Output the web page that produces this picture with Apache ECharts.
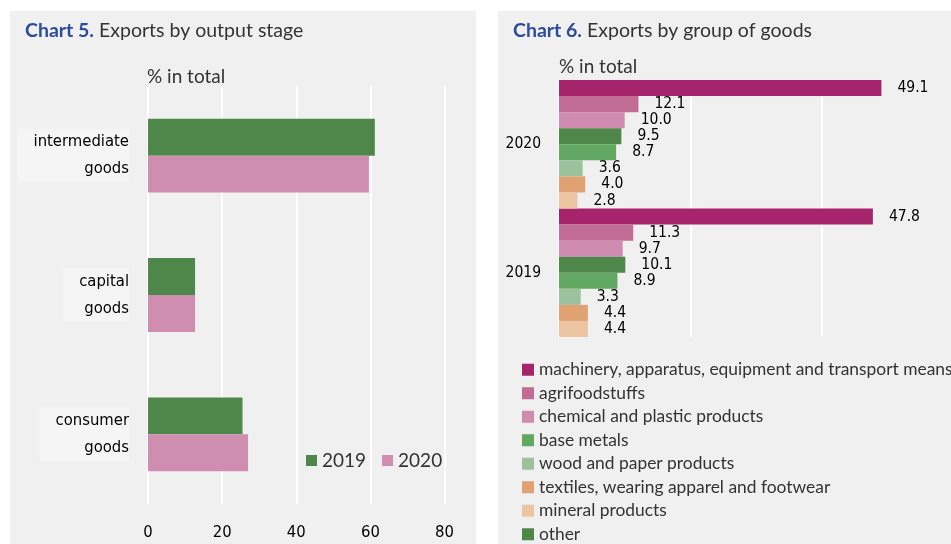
<!DOCTYPE html>
<html>
<head>
<meta charset="utf-8">
<script src="https://cdn.jsdelivr.net/npm/echarts@6/dist/echarts.min.js"></script>
<style>
    html, body { margin: 0; padding: 0; background: #ffffff; }
    #chart { width: 951px; height: 544px; }
</style>
</head>
<body>
<div id="chart"></div>
<script>
// chart 5: exports by output stage
const stageCats = ['intermediate\ngoods', 'capital\ngoods', 'consumer\ngoods'];
const stage2019 = [61.2, 12.7, 25.5];
const stage2020 = [59.6, 12.7, 27.0];
const stageTicks = [0, 20, 40, 60, 80];

// chart 6: exports by group of goods, values are [2020, 2019]
const years = ['2020', '2019'];
const machinery = [49.1, 47.8];
const agrifood = [12.1, 11.3];
const chemical = [10.0, 9.7];
const other = [9.5, 10.1];
const baseMetals = [8.7, 8.9];
const wood = [3.6, 3.3];
const textiles = [4.0, 4.4];
const mineral = [2.8, 4.4];

const FONT = 'Lato, "Open Sans", sans-serif';
const NARROW = '"Liberation Sans Narrow", "DejaVu Sans Condensed", sans-serif';
const GREEN = '#4f874b';
const PINK = '#cf8db0';

let groups = [
    { name: 'machinery, apparatus, equipment and transport means', data: machinery, color: '#a5246b' },
    { name: 'agrifoodstuffs', data: agrifood, color: '#c06c95' },
    { name: 'chemical and plastic products', data: chemical, color: '#cf8cb0' },
    { name: 'other', data: other, color: '#4f874b' },
    { name: 'base metals', data: baseMetals, color: '#63a862' },
    { name: 'wood and paper products', data: wood, color: '#9bc29d' },
    { name: 'textiles, wearing apparel and footwear', data: textiles, color: '#e0a272' },
    { name: 'mineral products', data: mineral, color: '#ecc4a2' }
];
// legend lists "other" last
let legendOrder = [0, 1, 2, 4, 5, 6, 7, 3].map(i => groups[i].name);

let mychart = echarts.init(document.getElementById('chart'));

let series = [
    {
        name: '2019', type: 'bar', xAxisIndex: 0, yAxisIndex: 0,
        data: stage2019, itemStyle: { color: GREEN },
        barGap: 0, barCategoryGap: '47%'
    },
    {
        name: '2020', type: 'bar', xAxisIndex: 0, yAxisIndex: 0,
        data: stage2020, itemStyle: { color: PINK }
    }
];
groups.forEach((g) => {
    series.push({
        name: g.name, type: 'bar', xAxisIndex: 1, yAxisIndex: 1,
        data: g.data,
        itemStyle: { color: g.color },
        barGap: 0, barCategoryGap: 0,
        label: {
            show: true, position: 'right', distance: 16,
            formatter: p => p.value.toFixed(1),
            fontFamily: NARROW, fontSize: 15.5, color: '#000'
        }
    })
})

let options = {
    animation: false,
    graphic: [
        { type: 'rect', shape: { x: 10, y: 11, width: 466, height: 540 }, style: { fill: '#f0f0f0' }, z: -10 },
        { type: 'rect', shape: { x: 498, y: 11, width: 470, height: 540 }, style: { fill: '#f0f0f0' }, z: -10 }
    ],
    title: [
        {
            left: 25, top: 21, padding: 0,
            text: '{b|Chart 5.} Exports by output stage',
            textStyle: {
                fontFamily: FONT, fontSize: 19.5, fontWeight: 'normal', color: '#333',
                rich: { b: { fontFamily: FONT, fontSize: 19.5, fontWeight: 'bold', color: '#2b4c9b' } }
            }
        },
        {
            left: 513, top: 21, padding: 0,
            text: '{b|Chart 6.} Exports by group of goods',
            textStyle: {
                fontFamily: FONT, fontSize: 19.5, fontWeight: 'normal', color: '#333',
                rich: { b: { fontFamily: FONT, fontSize: 19.5, fontWeight: 'bold', color: '#2b4c9b' } }
            }
        },
        {
            left: 147, top: 67, padding: 0, text: '% in total',
            textStyle: { fontFamily: FONT, fontSize: 19, fontWeight: 'normal', color: '#333' }
        },
        {
            left: 559, top: 57, padding: 0, text: '% in total',
            textStyle: { fontFamily: FONT, fontSize: 19, fontWeight: 'normal', color: '#333' }
        }
    ],
    legend: [
        {
            data: ['2019', '2020'], left: 306, top: 451, padding: 0,
            itemWidth: 11, itemHeight: 11, itemGap: 16, icon: 'rect',
            textStyle: { fontFamily: FONT, fontSize: 19, color: '#333' }
        },
        {
            data: legendOrder, orient: 'vertical', left: 522, top: 360, padding: 0,
            itemWidth: 12, itemHeight: 12, itemGap: 4, icon: 'rect',
            textStyle: { fontFamily: FONT, fontSize: 17.4, color: '#333', lineHeight: 19.5 }
        }
    ],
    grid: [
        { left: 148, top: 86, width: 296.5, height: 418, outerBoundsMode: 'none' },
        { left: 559, top: 80, width: 394, height: 257, outerBoundsMode: 'none' }
    ],
    xAxis: [
        {
            gridIndex: 0, type: 'value', min: 0, max: 80, interval: 20,
            axisLine: { show: false }, axisTick: { show: false },
            splitLine: { lineStyle: { color: '#ffffff', width: 2 } },
            axisLabel: { fontFamily: NARROW, fontSize: 16.5, color: '#000', margin: 20 }
        },
        {
            gridIndex: 1, type: 'value', min: 0, max: 60, interval: 20,
            axisLine: { show: false }, axisTick: { show: false },
            splitLine: { lineStyle: { color: '#ffffff', width: 2 } },
            axisLabel: { show: false }
        }
    ],
    yAxis: [
        {
            gridIndex: 0, type: 'category', data: stageCats, inverse: true,
            axisLine: { show: false }, axisTick: { show: false },
            axisLabel: {
                fontFamily: NARROW, fontSize: 16.5, fontWeight: 'normal', color: '#000',
                lineHeight: 27, align: 'right', margin: 19,
                backgroundColor: '#f4f5f4', padding: [0, 0, 0, 16]
            }
        },
        {
            gridIndex: 1, type: 'category', data: years, inverse: true,
            axisLine: { lineStyle: { color: '#ffffff', width: 2 } }, axisTick: { show: false },
            axisLabel: { fontFamily: NARROW, fontSize: 15.5, color: '#000', margin: 18 }
        }
    ],
    series: series
};

mychart.setOption(options);
</script>
</body>
</html>
